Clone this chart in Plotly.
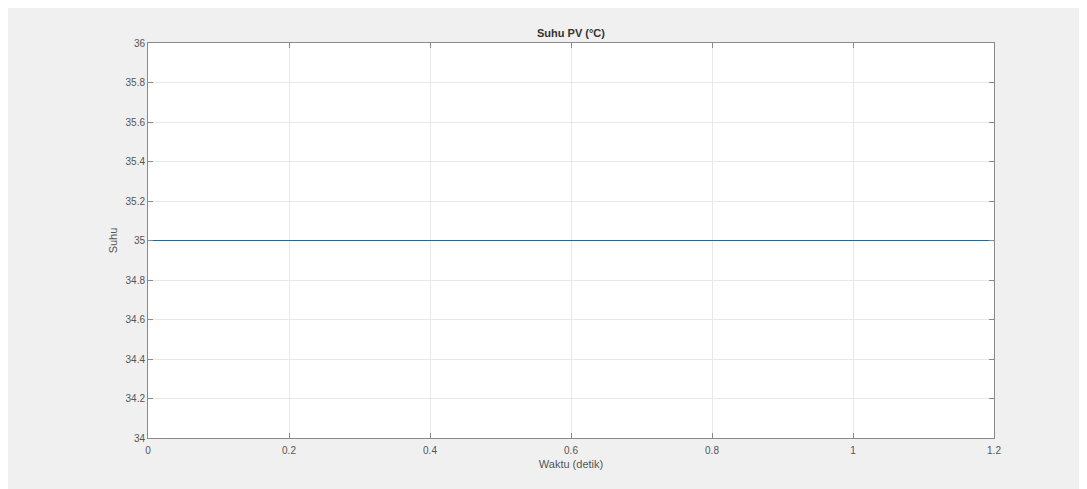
import plotly.graph_objects as go

waktu = [0, 0.2, 0.4, 0.6, 0.8, 1.0, 1.2]
suhu = [35, 35, 35, 35, 35, 35, 35]
x_ticks = [0, 0.2, 0.4, 0.6, 0.8, 1.0, 1.2]
x_labels = ["0", "0.2", "0.4", "0.6", "0.8", "1", "1.2"]
y_ticks = [34, 34.2, 34.4, 34.6, 34.8, 35, 35.2, 35.4, 35.6, 35.8, 36]
y_labels = ["34", "34.2", "34.4", "34.6", "34.8", "35", "35.2", "35.4", "35.6", "35.8", "36"]

# page has 8px body margin; figure occupies the rest of the window
W, H = 1079, 481
L, R, T, B = 140, 986, 35, 430

fig = go.Figure()
fig.add_trace(go.Scatter(x=waktu, y=suhu, mode="lines",
                         line=dict(color="#0072BD", width=1.2),
                         showlegend=False, hoverinfo="x+y"))

axis_common = dict(showline=True, linecolor="#8a8a8a", linewidth=1,
                   mirror="ticks", ticks="inside", ticklen=5, tickcolor="#8a8a8a",
                   showgrid=True, gridcolor="#e8e8e8", gridwidth=1,
                   zeroline=False, tickfont=dict(family="Liberation Sans, Arial", size=10, color="#555555"))

fig.update_xaxes(range=[0, 1.2], tickvals=x_ticks, ticktext=x_labels, ticklabelstandoff=3,
                 title=dict(text="Waktu (detik)", standoff=5,
                            font=dict(family="Liberation Sans, Arial", size=11, color="#555555")),
                 **axis_common)
fig.update_yaxes(range=[34, 36], tickvals=y_ticks, ticktext=y_labels,
                 title=dict(text="Suhu", standoff=5,
                            font=dict(family="Liberation Sans, Arial", size=11, color="#555555")),
                 **axis_common)

fig.update_layout(
    width=W, height=H,
    margin=dict(l=L, r=W - R, t=T, b=H - B, pad=0),
    paper_bgcolor="#f0f0f0", plot_bgcolor="white",
    title=dict(text="<b>Suhu PV (°C)</b>", x=(L + R) / 2 / W, xanchor="center",
               y=1 - 25 / H, yanchor="middle",
               font=dict(family="Liberation Sans, Arial", size=11, color="#333333")),
)

fig.write_html("out.html")
